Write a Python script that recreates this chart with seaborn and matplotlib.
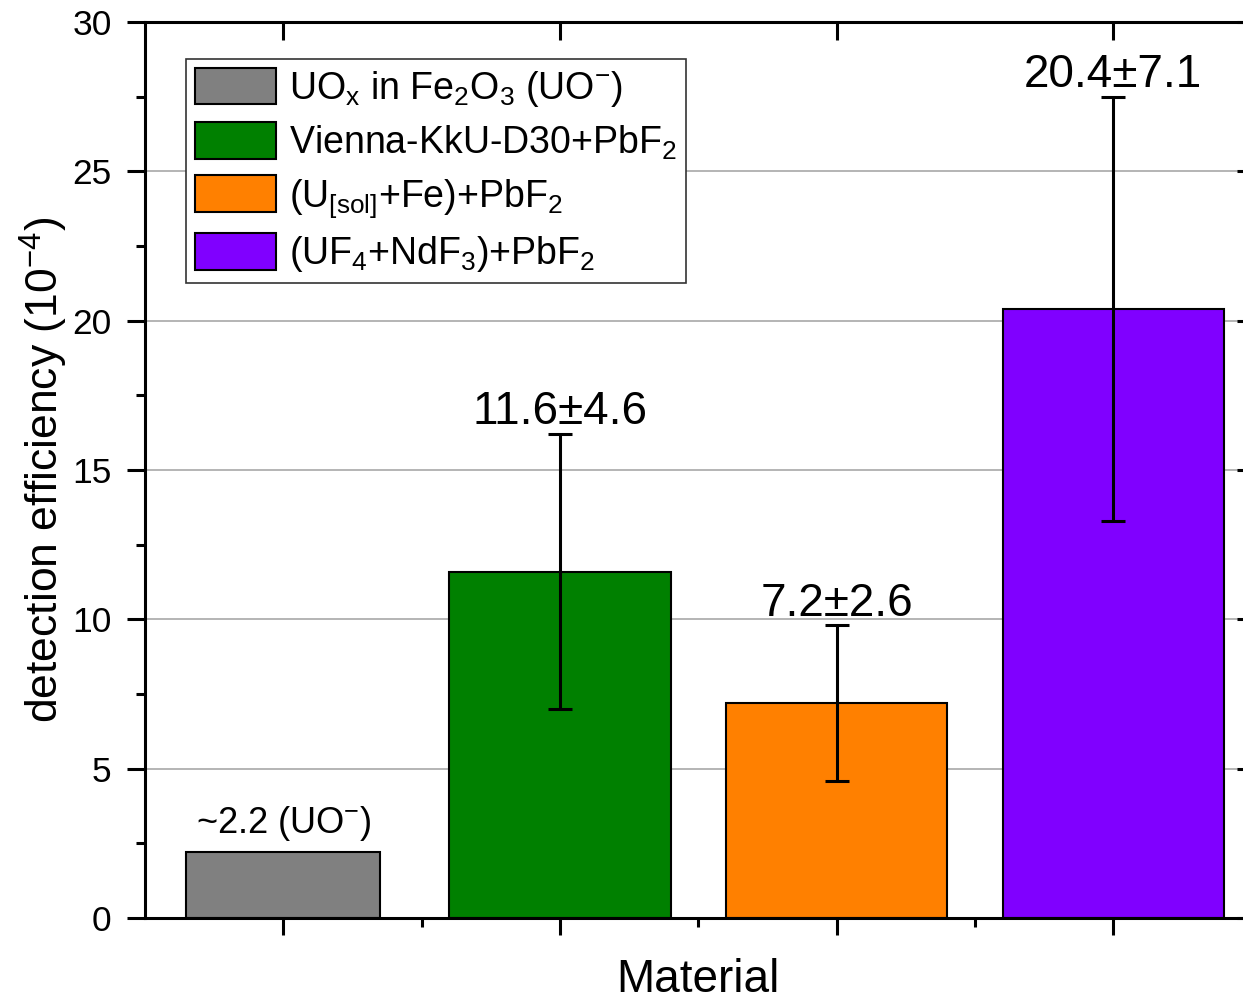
import matplotlib
matplotlib.use("Agg")
import matplotlib.pyplot as plt
from matplotlib.patches import Patch
from matplotlib.ticker import MultipleLocator, FixedLocator
import numpy as np
import pandas as pd
import seaborn as sns

# Materials and measured detection efficiencies (units of 1e-4)
materials = ["UOx in Fe2O3", "Vienna-KkU-D30+PbF2", "(U[sol]+Fe)+PbF2", "(UF4+NdF3)+PbF2"]
legend_labels = [
    r"UO$_\mathregular{x}$ in Fe$_2$O$_3$ (UO$^{-}$)",
    r"Vienna-KkU-D30+PbF$_2$",
    r"(U$_\mathregular{[sol]}$+Fe)+PbF$_2$",
    r"(UF$_4$+NdF$_3$)+PbF$_2$",
]
efficiency = [2.2, 11.6, 7.2, 20.4]
uncertainty = [np.nan, 4.6, 2.6, 7.1]
value_labels = [r"~2.2 (UO$^{-}$)", "11.6±4.6", "7.2±2.6", "20.4±7.1"]
colors = ["#808080", "#008000", "#FF8000", "#8000FF"]

sns.set_theme(style="white")
plt.rcParams["font.family"] = ["Liberation Sans", "DejaVu Sans"]
plt.rcParams["mathtext.fontset"] = "custom"
plt.rcParams["mathtext.rm"] = "Liberation Sans"
plt.rcParams["mathtext.it"] = "Liberation Sans"
plt.rcParams["mathtext.default"] = "regular"
plt.rcParams["text.color"] = "black"
plt.rcParams["axes.labelcolor"] = "black"
plt.rcParams["xtick.color"] = "black"
plt.rcParams["ytick.color"] = "black"

df = pd.DataFrame({"material": materials, "efficiency": efficiency, "err": uncertainty})
palette = dict(zip(materials, colors))

fig = plt.figure(figsize=(12.43, 10.01), dpi=100)
ax = fig.add_axes([145 / 1243, 83 / 1001, 1106.5 / 1243, 896 / 1001])

ax.set_axisbelow(True)
ax.yaxis.grid(True, color="#a0a0a0", linewidth=1.1)

# reference oxide bar is drawn slightly narrower than the fluoride samples
sns.barplot(data=df[df.material != materials[0]], x="material", y="efficiency",
            hue="material", order=materials, hue_order=materials, palette=palette,
            width=0.8, dodge=False, edgecolor="black", linewidth=1.5,
            legend=False, errorbar=None, ax=ax, saturation=1)
sns.barplot(data=df[df.material == materials[0]], x="material", y="efficiency",
            hue="material", order=materials, hue_order=materials, palette=palette,
            width=0.7, dodge=False, edgecolor="black", linewidth=1.5,
            legend=False, errorbar=None, ax=ax, saturation=1)

pos = np.arange(len(materials))
has_err = ~np.isnan(np.array(uncertainty))
ax.errorbar(pos[has_err], np.array(efficiency)[has_err], yerr=np.array(uncertainty)[has_err],
            fmt="none", ecolor="black", elinewidth=2.2, capsize=8.5, capthick=2.2, zorder=5)

# value labels above each bar / error bar
for i, (v, e, lab) in enumerate(zip(efficiency, uncertainty, value_labels)):
    if np.isnan(e):
        ax.annotate(lab, (i, v), xytext=(0, 14), textcoords="offset points",
                    ha="center", va="baseline", fontsize=26)
    else:
        ax.annotate(lab, (i, v + e), xytext=(0, 7), textcoords="offset points",
                    ha="center", va="baseline", fontsize=33)

ax.set_xlim(-0.5, 3.5)
ax.set_ylim(0, 30)
ax.yaxis.set_major_locator(MultipleLocator(5))
ax.yaxis.set_minor_locator(MultipleLocator(2.5))
ax.xaxis.set_major_locator(FixedLocator(pos))
ax.xaxis.set_minor_locator(FixedLocator(pos[:-1] + 0.5))
ax.set_xticklabels([])

for side in ["left", "right", "top", "bottom"]:
    ax.spines[side].set_visible(True)
    ax.spines[side].set_color("black")
    ax.spines[side].set_linewidth(2.2)

ax.tick_params(axis="y", which="major", left=True, right=True, direction="out",
               length=13, width=2.2, labelsize=25.5, color="black", pad=11)
ax.tick_params(axis="y", which="minor", left=True, right=True, direction="out",
               length=6.5, width=2.2, color="black")
ax.tick_params(axis="x", which="major", bottom=True, top=True, direction="out",
               length=12.5, width=2.2, color="black")
ax.tick_params(axis="x", which="minor", bottom=True, top=False, direction="out",
               length=6.5, width=2.2, color="black")
# inward ticks on the mirrored top and right axes
for t in ax.xaxis.get_major_ticks():
    t.tick2line.set_marker(matplotlib.lines.TICKDOWN)
    t.tick2line.set_markersize(13)
for t in ax.yaxis.get_major_ticks():
    t.tick2line.set_marker(matplotlib.lines.TICKLEFT)
    t.tick2line.set_markersize(11)
for t in ax.yaxis.get_minor_ticks():
    t.tick2line.set_marker(matplotlib.lines.TICKLEFT)
    t.tick2line.set_markersize(5)

ax.set_xlabel("Material", fontsize=33, labelpad=13)
ax.set_ylabel(r"detection efficiency (10$^{-4}$)", fontsize=32, labelpad=2)

handles = [Patch(facecolor=c, edgecolor="black", linewidth=1.5) for c in colors]
leg = ax.legend(handles, legend_labels, loc="upper left",
                bbox_to_anchor=(41 / 1106.5, (918 - 59) / 896), borderaxespad=0,
                fontsize=27, frameon=True, fancybox=False, framealpha=1,
                edgecolor="#333333", handlelength=2.15, handleheight=1.12,
                handletextpad=0.35, labelspacing=0.36, borderpad=0.24)
leg.get_frame().set_linewidth(1.2)

fig.savefig("out.png", dpi=100)
